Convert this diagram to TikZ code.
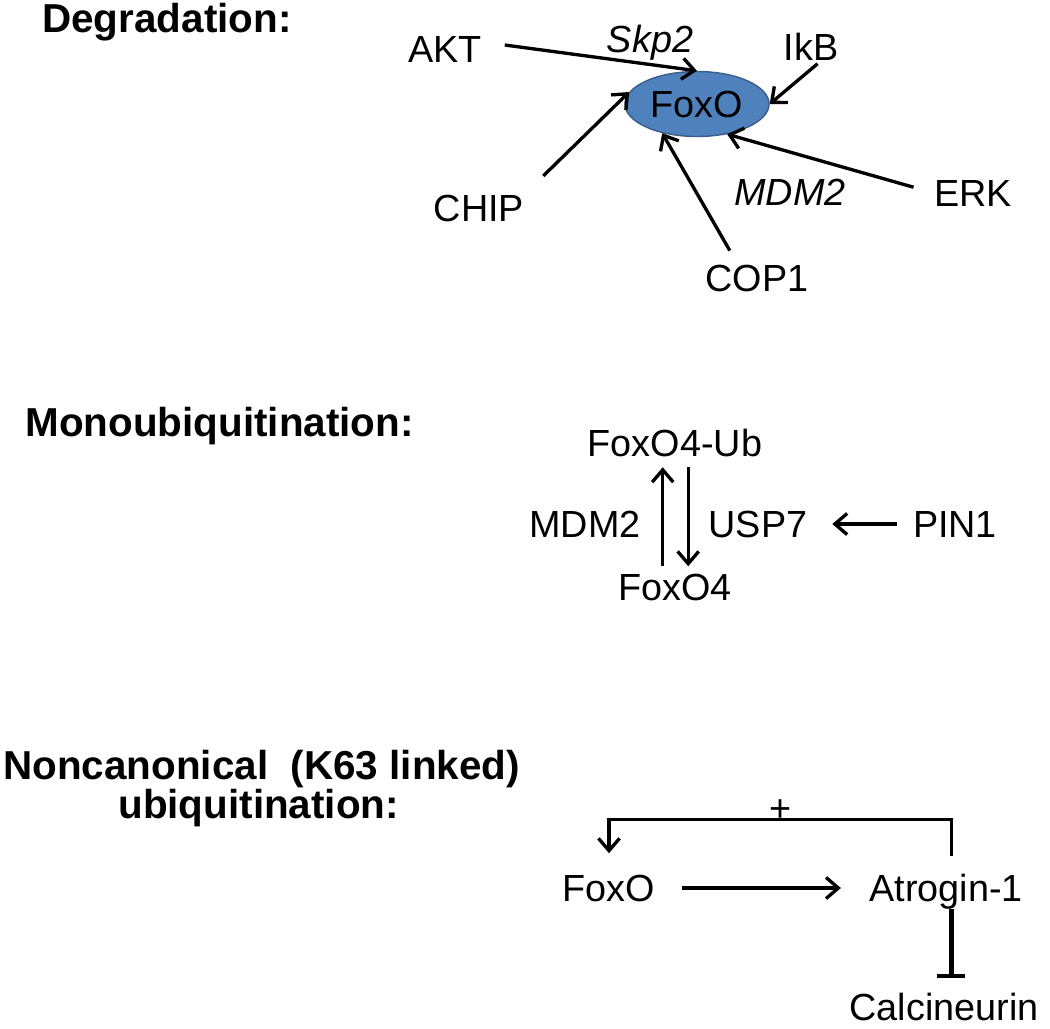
\documentclass[tikz,border=0pt]{standalone}
\usepackage{fontspec}
\setmainfont{Liberation Sans}
\usepackage{xcolor}
\usetikzlibrary{arrows.meta,shapes.geometric}
\definecolor{foxoblue}{RGB}{79,129,189}
\definecolor{foxoedge}{RGB}{56,93,138}

\begin{document}
\begin{tikzpicture}[x=0.02cm, y=-0.02cm,
    every node/.style={inner sep=0pt, font=\fontsize{21.5}{26}\selectfont},
    lbl/.style={anchor=base},
    title/.style={anchor=base west, font=\fontsize{23}{27}\selectfont\bfseries},
    arr/.style={line width=1.9pt, -{Straight Barb[length=7pt,width=12pt]}},
    inh/.style={line width=2.6pt, -{Bar[width=16pt]}},
    prot/.style={ellipse, fill=foxoblue, draw=foxoedge, line width=0.8pt,
                 minimum width=82pt, minimum height=37pt}]
                \useasboundingbox (0,0) rectangle (1050,1028);
                % degradation
                \node [title] (degr) at (42,32) {Degradation:};
                \node [prot] (foxo) at (697,104) {FoxO};
                \node [lbl] (akt) at (445,62) {AKT};
                \node [lbl] (skp) at (650,52) {\itshape Skp2};
                \node [lbl] (ikb) at (811,60) {IkB};
                \node [lbl] (chip) at (479,221) {CHIP};
                \node [lbl] (mdmi) at (790,205) {\itshape MDM2};
                \node [lbl] (erk) at (973,206) {ERK};
                \node [lbl] (cop) at (757,291) {COP1};
                \draw [arr, shorten <=13pt] ([yshift=4pt]akt.east) -- (foxo.north);
                \draw [arr, shorten <=3pt] ([xshift=6pt]ikb.south) -- (foxo.east);
                \draw [arr, shorten <=15pt] (chip.north east) -- (foxo.170);
                \draw [arr, shorten <=9pt] ([xshift=-11pt]cop.north) -- (foxo.220);
                \draw [arr, shorten <=12pt] (erk.west) -- (foxo.-45);
                % monoubiquitination
                \node [title] (mono) at (25,436) {Monoubiquitination:};
                \node [lbl] (foxoub) at (675,456) {FoxO4-Ub};
                \node [lbl] (foxof) at (675,600) {FoxO4};
                \node [lbl] (mdm) at (585,537) {MDM2};
                \node [lbl] (usp) at (758,537) {USP7};
                \node [lbl] (pin) at (955,537) {PIN1};
                \draw [arr, shorten <=4pt, shorten >=6pt] ([xshift=-7pt]foxof.north) -- ([xshift=-7pt]foxof.north |- foxoub.south);
                \draw [arr, shorten <=6pt, shorten >=4pt] ([xshift=7.5pt]foxoub.south) -- ([xshift=7.5pt]foxoub.south |- foxof.north);
                \draw [arr, shorten <=9pt, shorten >=14pt] (pin.west) -- (pin.west -| usp.east);
                % noncanonical
                \node [title] (nca) at (3,779) {Noncanonical\ \ (K63 linked)};
                \node [title] (ncb) at (118,818) {ubiquitination:};
                \node [lbl] (foxob) at (609,901) {FoxO};
                \node [lbl] (atro) at (946,901) {Atrogin-1};
                \node [lbl] (calc) at (944,1020) {Calcineurin};
                \draw [arr, shorten <=15pt, shorten >=16pt] (foxob.east) -- (foxob.east -| atro.west);
                \draw [arr] ([xshift=3pt,yshift=10pt]atro.north) -- ++(0,-36)
                    -| node [pos=0.25, above, yshift=-2pt] (plus) {+} ([yshift=12pt]foxob.north);
                \draw [inh, shorten >=8pt] ([xshift=3pt]atro.south) -- ([xshift=3pt]atro.south |- calc.north);
            \end{tikzpicture}
\end{document}
